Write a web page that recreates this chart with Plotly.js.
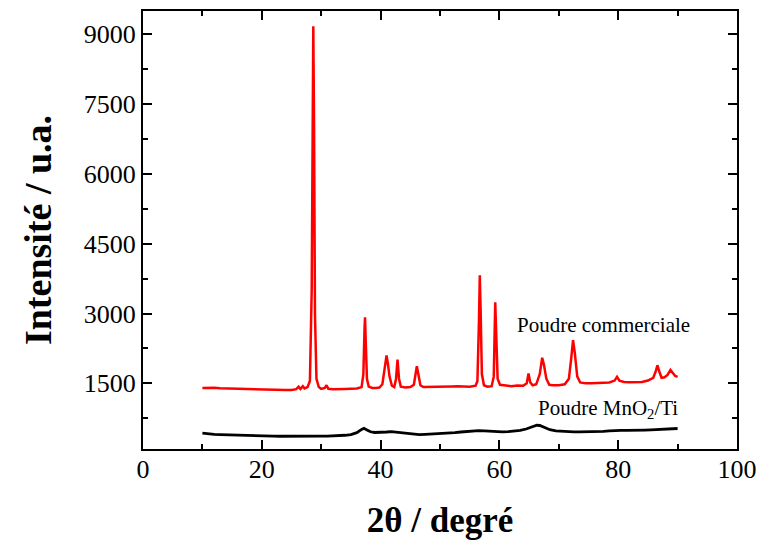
<!DOCTYPE html>
<html>
<head>
<meta charset="utf-8">
<script src="https://cdn.plot.ly/plotly-3.0.1.min.js"></script>
<style>html,body{margin:0;padding:0;background:#fff;}#chart{width:760px;height:540px;}</style>
</head>
<body>
<div id="chart"></div>
<script>
// Commercial powder (red)
const xCommerciale = [10,11,12,13,14,15,16,17,18,19,20,21,22,23,24,25,25.8,26.2,26.5,26.9,27.2,27.7,28.1,28.4,28.55,28.67,28.8,28.95,29.2,29.6,30.0,30.6,30.9,31.2,32,33,34,35,36,36.8,37.1,37.3,37.38,37.5,37.7,38.0,38.6,39.2,39.8,40.3,40.7,41.0,41.2,41.5,41.9,42.3,42.6,42.85,43.1,43.4,44.2,45.0,45.6,45.9,46.1,46.35,46.7,47.2,48,49,50,51,52,53,54,55,56,56.3,56.55,56.7,56.85,57.05,57.4,58.0,58.7,59.05,59.3,59.45,59.7,60.1,61,62,63,64,64.6,64.9,65.2,65.6,66.2,66.8,67.2,67.5,67.9,68.4,69,70,71,71.7,72.1,72.4,72.7,73.1,73.6,74.5,75.5,76.5,77.5,78.5,79.4,79.8,80.2,81,82,83,84,85,85.9,86.3,86.6,86.9,87.3,87.8,88.3,88.8,89.2,89.6,90];
const yCommerciale = [1400,1410,1405,1395,1390,1385,1380,1385,1375,1380,1370,1370,1365,1360,1355,1360,1375,1430,1380,1440,1390,1420,1550,3500,7500,9170,7000,3000,1600,1420,1380,1400,1460,1385,1375,1370,1380,1385,1390,1420,1700,2700,2920,2400,1600,1430,1400,1400,1410,1480,1800,2100,1950,1650,1450,1420,1600,2010,1600,1430,1410,1420,1470,1700,1870,1700,1460,1420,1420,1425,1430,1420,1435,1440,1440,1430,1450,1550,2800,3820,3000,1700,1460,1430,1440,1650,3240,2500,1600,1470,1450,1440,1455,1450,1500,1710,1520,1460,1480,1700,2050,1900,1600,1470,1460,1460,1480,1600,2050,2430,2150,1650,1520,1500,1505,1510,1510,1520,1560,1640,1560,1530,1525,1530,1530,1560,1620,1750,1890,1760,1620,1630,1680,1790,1720,1660,1640];

// MnO2/Ti powder (black)
const xMnO2Ti = [10,10.5,11,12,13,14,15,16,17,18,19,20,21,22,23,24,25,26,27,28,29,30,31,32,33,34,35,36,36.8,37.2,37.7,38.3,39,40,41,41.8,42.5,43.5,44.5,45.5,46.5,47.5,48.5,49.5,50.5,51.5,52.5,53.5,54.5,55.5,56.5,57.5,58.5,59.5,60.5,61.5,62.5,63.5,64.5,65.5,66.3,66.8,67.5,68.5,69.5,70.5,71.5,72.5,73.5,74.5,75.5,76.5,77.5,78.5,79.5,80.5,81.5,82.5,83.5,84.5,85.5,86.5,87.5,88.5,89.5,90];
const yMnO2Ti = [430,420,410,405,400,395,385,380,378,375,372,370,368,366,364,362,362,360,360,362,365,365,368,372,375,385,400,440,510,535,500,460,445,445,455,465,455,430,412,405,400,405,410,415,420,428,440,455,465,478,485,478,470,460,458,462,472,490,520,570,600,595,560,505,480,470,465,460,460,460,460,462,468,478,488,492,488,485,490,495,500,505,510,515,525,530];

const xTickStep = 20;
const yTickStep = 1500;
const labelCommerciale = "Poudre commerciale";
const labelMnO2Ti = "Poudre MnO<sub>2</sub>/Ti";

const serif = "Liberation Serif, Times New Roman, serif";

const traces = [
  {x: xCommerciale, y: yCommerciale, type: 'scatter', mode: 'lines', name: labelCommerciale,
   line: {color: '#ff0000', width: 2.5}},
  {x: xMnO2Ti, y: yMnO2Ti, type: 'scatter', mode: 'lines', name: labelMnO2Ti,
   line: {color: '#000000', width: 2.8}}
];

const layout = {
  width: 760, height: 540,
  margin: {l: 143, r: 23, t: 11, b: 91},
  paper_bgcolor: '#fff', plot_bgcolor: '#fff',
  showlegend: false,
  font: {family: serif, color: '#000', size: 26},
  xaxis: {
    range: [0, 100], dtick: xTickStep, tick0: 0,
    ticks: 'inside', ticklen: 9, tickwidth: 2, tickcolor: '#000',
    showline: true, linewidth: 2, linecolor: '#000', mirror: 'ticks',
    showgrid: false, zeroline: false,
    tickfont: {family: serif, size: 26},
    ticklabelstandoff: -4,
    minor: {dtick: 10, ticks: 'inside', ticklen: 5, tickwidth: 2, tickcolor: '#000', showgrid: false},
    title: {text: '<b>2θ / degré</b>', font: {family: serif, size: 35}, standoff: 24}
  },
  yaxis: {
    range: [90, 9500], dtick: yTickStep, tick0: 0,
    ticks: 'inside', ticklen: 9, tickwidth: 2, tickcolor: '#000',
    showline: true, linewidth: 2, linecolor: '#000', mirror: 'ticks',
    showgrid: false, zeroline: false,
    tickfont: {family: serif, size: 26},
    ticklabelstandoff: 0,
    minor: {dtick: 750, ticks: 'inside', ticklen: 5, tickwidth: 2, tickcolor: '#000', showgrid: false},
    title: {text: '<b>Intensité / u.a.</b>', font: {family: serif, size: 38}, standoff: 20}
  },
  annotations: [
    {x: 77.5, y: 2752, xref: 'x', yref: 'y', text: labelCommerciale, showarrow: false,
     font: {family: serif, size: 21, color: '#000'}, xanchor: 'center', yanchor: 'middle'},
    {x: 78.3, y: 960, xref: 'x', yref: 'y', text: labelMnO2Ti, showarrow: false,
     font: {family: serif, size: 21, color: '#000'}, xanchor: 'center', yanchor: 'middle'}
  ]
};

Plotly.newPlot('chart', traces, layout, {displayModeBar: false, staticPlot: true});
</script>
</body>
</html>
